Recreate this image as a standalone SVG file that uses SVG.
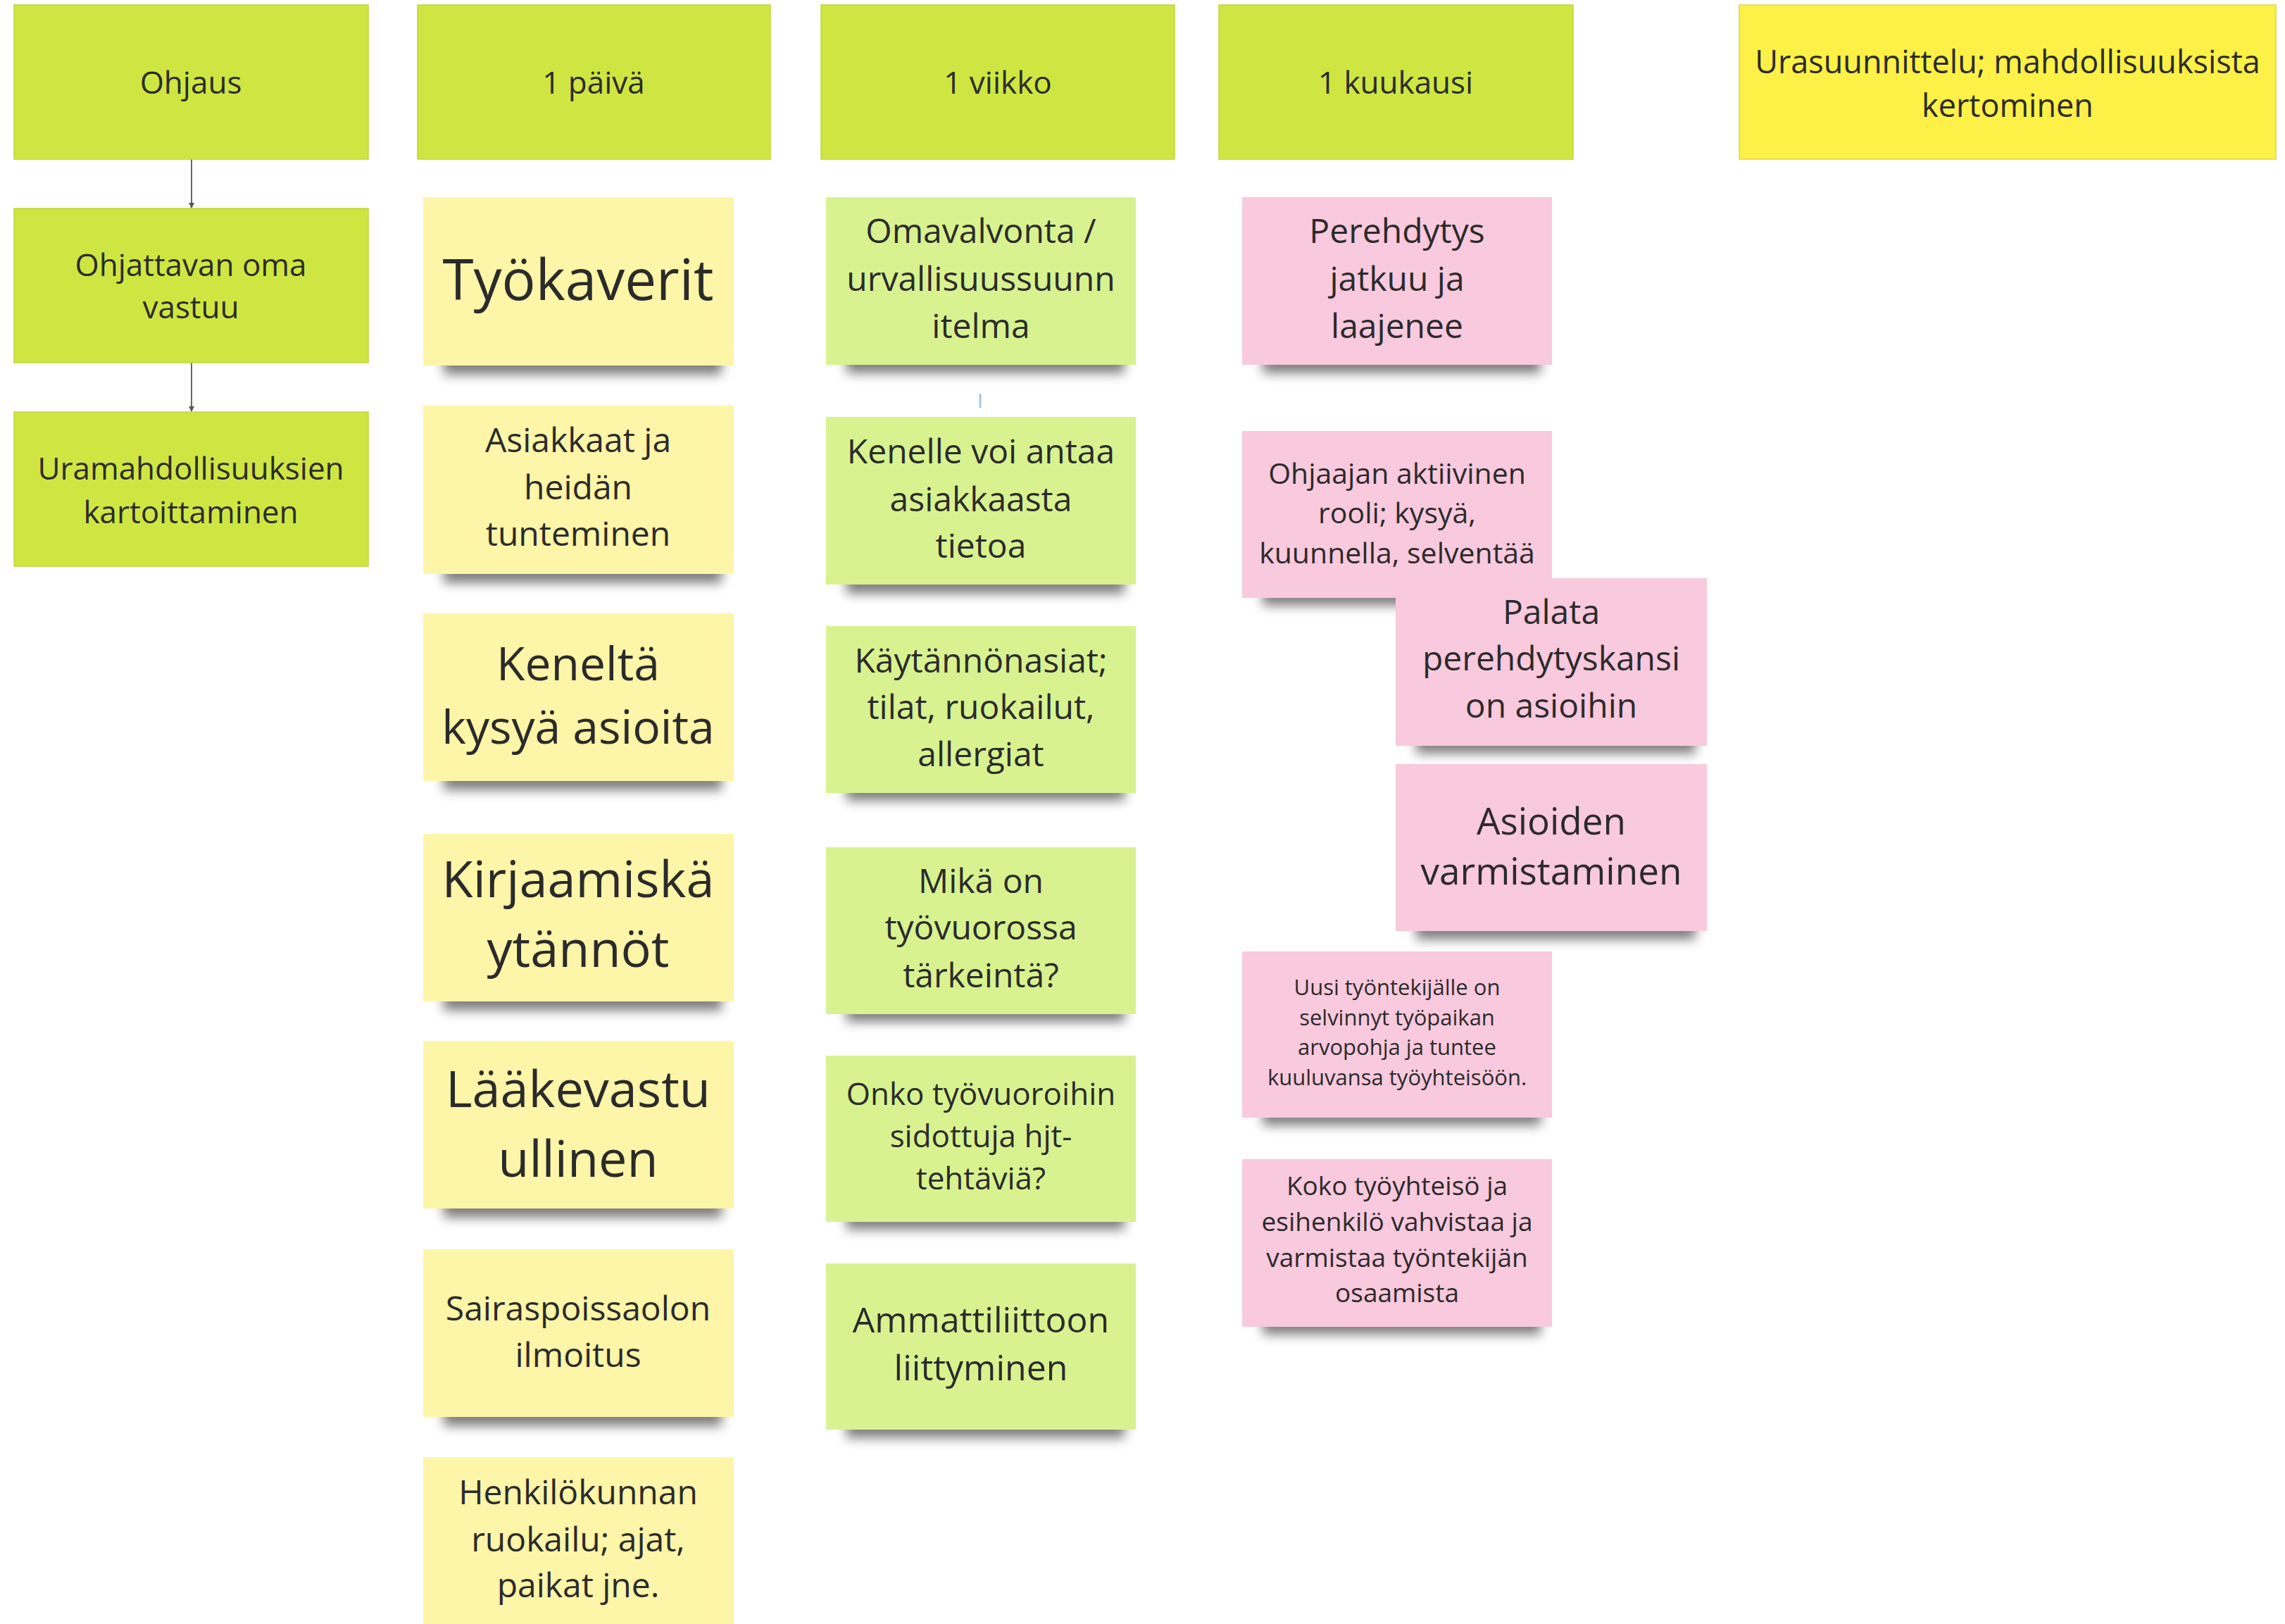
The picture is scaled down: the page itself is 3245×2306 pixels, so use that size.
<svg xmlns="http://www.w3.org/2000/svg" width="3245" height="2306" viewBox="0 0 3245 2306">
<style>
text{font-family:"Open Sans","Noto Sans","Liberation Sans",sans-serif;fill:#2b2b2b;text-anchor:middle}
.hdr{fill:#cfe642;stroke:#c2d43a;stroke-width:1.5}
.ura{fill:#fdf046;stroke:#e2d640;stroke-width:1.5}
.day{fill:#fdf5a8}
.wk{fill:#d8f290}
.pk{fill:#f9c9dd}
.sh{fill:#000;opacity:0.5;filter:url(#blur)}
.conn{stroke:#666;stroke-width:2;fill:none;marker-end:url(#ah)}
</style>
<defs>
<filter id="blur" x="-20%" y="-60%" width="140%" height="220%"><feGaussianBlur stdDeviation="8"/></filter>
<marker id="ah" markerWidth="8" markerHeight="8" refX="7" refY="4" orient="auto" markerUnits="userSpaceOnUse"><path d="M0,0 L8,4 L0,8 Z" fill="#555"/></marker>
<linearGradient id="gday" x1="0" y1="0" x2="1" y2="1"><stop offset="0" stop-color="#fdf6b0"/><stop offset="1" stop-color="#fcf2a0"/></linearGradient>
</defs>
<rect width="3245" height="2306" fill="#ffffff"/>

<g id="connectors">
<line class="conn" x1="272" y1="226" x2="272" y2="295"/>
<line class="conn" x1="272" y1="515" x2="272" y2="584"/>
<line x1="1392" y1="559" x2="1392" y2="579" stroke="#a9c4dc" stroke-width="3"/>
</g>

<!-- header row -->
<g id="ohjaus"><rect class="hdr" x="20" y="7" width="503" height="219"/><text x="271" y="133" font-size="44">Ohjaus</text></g>
<g id="paiva"><rect class="hdr" x="593" y="7" width="501" height="219"/><text x="843" y="133" font-size="44">1 päivä</text></g>
<g id="viikko"><rect class="hdr" x="1166" y="7" width="502" height="219"/><text x="1417" y="133" font-size="44">1 viikko</text></g>
<g id="kuukausi"><rect class="hdr" x="1731" y="7" width="503" height="219"/><text x="1982" y="133" font-size="44">1 kuukausi</text></g>
<g id="urasuunnittelu"><rect class="ura" x="2470" y="7" width="762" height="219"/><text x="2851" y="104" font-size="45">Urasuunnittelu; mahdollisuuksista</text><text x="2851" y="166" font-size="45">kertominen</text></g>

<!-- left column -->
<g id="ohjattavan"><rect class="hdr" x="20" y="296" width="503" height="219"/><text x="271" y="392" font-size="44">Ohjattavan oma</text><text x="271" y="452" font-size="44">vastuu</text></g>
<g id="uramahdollisuuksien"><rect class="hdr" x="20" y="585" width="503" height="219"/><text x="271" y="681" font-size="44">Uramahdollisuuksien</text><text x="271" y="743" font-size="44">kartoittaminen</text></g>

<!-- 1 päivä column -->
<g id="tyokaverit"><rect class="sh" x="630" y="490" width="395" height="42"/><rect class="day" x="601" y="280" width="441" height="239" fill="url(#gday)"/><text x="821" y="426" font-size="80">Työkaverit</text></g>
<g id="asiakkaat"><rect class="sh" x="630" y="786" width="395" height="42"/><rect class="day" x="601" y="576" width="441" height="239"/><text x="821" y="642" font-size="48">Asiakkaat ja</text><text x="821" y="709" font-size="48">heidän</text><text x="821" y="775" font-size="48">tunteminen</text></g>
<g id="keneltä"><rect class="sh" x="630" y="1080" width="395" height="42"/><rect class="day" x="601" y="871" width="441" height="238"/><text x="821" y="966" font-size="66">Keneltä</text><text x="821" y="1056" font-size="66">kysyä asioita</text></g>
<g id="kirjaamis"><rect class="sh" x="630" y="1393" width="395" height="42"/><rect class="day" x="601" y="1184" width="441" height="238"/><text x="821" y="1274" font-size="72">Kirjaamiskä</text><text x="821" y="1373" font-size="72">ytännöt</text></g>
<g id="laakevastuu"><rect class="sh" x="630" y="1687" width="395" height="42"/><rect class="day" x="601" y="1478" width="441" height="238"/><text x="821" y="1572" font-size="72">Lääkevastu</text><text x="821" y="1671" font-size="72">ullinen</text></g>
<g id="sairaspoissaolo"><rect class="sh" x="630" y="1983" width="395" height="42"/><rect class="day" x="601" y="1774" width="441" height="238"/><text x="821" y="1875" font-size="48">Sairaspoissaolon</text><text x="821" y="1941" font-size="48">ilmoitus</text></g>
<g id="ruokailu"><rect class="day" x="601" y="2069" width="441" height="245"/><text x="821" y="2136" font-size="48">Henkilökunnan</text><text x="821" y="2203" font-size="48">ruokailu; ajat,</text><text x="821" y="2268" font-size="48">paikat jne.</text></g>

<!-- 1 viikko column -->
<g id="omavalvonta"><rect class="sh" x="1202" y="488" width="395" height="42"/><rect class="wk" x="1173" y="280" width="440" height="238"/><text x="1393" y="345" font-size="48">Omavalvonta /</text><text x="1393" y="413" font-size="48">urvallisuussuunn</text><text x="1393" y="480" font-size="48">itelma</text></g>
<g id="kenelle"><rect class="sh" x="1202" y="801" width="395" height="42"/><rect class="wk" x="1173" y="592" width="440" height="238"/><text x="1393" y="658" font-size="48">Kenelle voi antaa</text><text x="1393" y="726" font-size="48">asiakkaasta</text><text x="1393" y="792" font-size="48">tietoa</text></g>
<g id="kaytannonasiat"><rect class="sh" x="1202" y="1095" width="395" height="42"/><rect class="wk" x="1173" y="889" width="440" height="237"/><text x="1393" y="955" font-size="48">Käytännönasiat;</text><text x="1393" y="1021" font-size="48">tilat, ruokailut,</text><text x="1393" y="1088" font-size="48">allergiat</text></g>
<g id="mika"><rect class="sh" x="1202" y="1409" width="395" height="42"/><rect class="wk" x="1173" y="1203" width="440" height="237"/><text x="1393" y="1268" font-size="48">Mikä on</text><text x="1393" y="1334" font-size="48">työvuorossa</text><text x="1393" y="1402" font-size="48">tärkeintä?</text></g>
<g id="onko"><rect class="sh" x="1202" y="1704" width="395" height="42"/><rect class="wk" x="1173" y="1499" width="440" height="236"/><text x="1393" y="1569" font-size="44">Onko työvuoroihin</text><text x="1393" y="1629" font-size="44">sidottuja hjt-</text><text x="1393" y="1689" font-size="44">tehtäviä?</text></g>
<g id="ammattiliitto"><rect class="sh" x="1202" y="2000" width="395" height="42"/><rect class="wk" x="1173" y="1794" width="440" height="236"/><text x="1393" y="1892" font-size="50">Ammattiliittoon</text><text x="1393" y="1960" font-size="50">liittyminen</text></g>

<!-- 1 kuukausi column -->
<g id="perehdytys"><rect class="sh" x="1793" y="488" width="395" height="42"/><rect class="pk" x="1764" y="280" width="440" height="238"/><text x="1984" y="345" font-size="48">Perehdytys</text><text x="1984" y="413" font-size="48">jatkuu ja</text><text x="1984" y="480" font-size="48">laajenee</text></g>
<g id="ohjaajan"><rect class="sh" x="1793" y="818" width="395" height="42"/><rect class="pk" x="1764" y="612" width="440" height="237"/><text x="1984" y="687" font-size="41">Ohjaajan aktiivinen</text><text x="1984" y="743" font-size="41">rooli; kysyä,</text><text x="1984" y="800" font-size="41">kuunnella, selventää</text></g>
<g id="palata"><rect class="sh" x="2011" y="1028" width="397" height="42"/><rect class="pk" x="1982" y="821" width="442" height="238"/><text x="2203" y="886" font-size="48">Palata</text><text x="2203" y="952" font-size="48">perehdytyskansi</text><text x="2203" y="1019" font-size="48">on asioihin</text></g>
<g id="asioiden"><rect class="sh" x="2011" y="1292" width="397" height="42"/><rect class="pk" x="1982" y="1085" width="442" height="237"/><text x="2203" y="1185" font-size="53">Asioiden</text><text x="2203" y="1256" font-size="53">varmistaminen</text></g>
<g id="uusi"><rect class="sh" x="1793" y="1556" width="395" height="42"/><rect class="pk" x="1764" y="1351" width="440" height="236"/><text x="1984" y="1413" font-size="31">Uusi työntekijälle on</text><text x="1984" y="1456" font-size="31">selvinnyt työpaikan</text><text x="1984" y="1498" font-size="31">arvopohja ja tuntee</text><text x="1984" y="1541" font-size="31">kuuluvansa työyhteisöön.</text></g>
<g id="koko"><rect class="sh" x="1793" y="1853" width="395" height="42"/><rect class="pk" x="1764" y="1646" width="440" height="238"/><text x="1984" y="1697" font-size="37">Koko työyhteisö ja</text><text x="1984" y="1748" font-size="37">esihenkilö vahvistaa ja</text><text x="1984" y="1799" font-size="37">varmistaa työntekijän</text><text x="1984" y="1849" font-size="37">osaamista</text></g>
</svg>
